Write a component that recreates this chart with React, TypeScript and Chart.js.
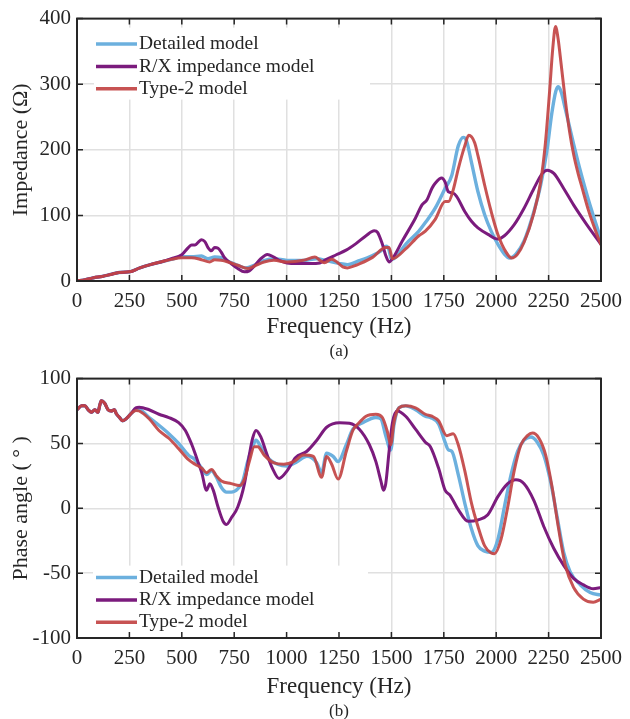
import React, { useEffect, useRef } from "react";
import { Chart, registerables } from "chart.js";

Chart.register(...registerables);

const FONT = "'Liberation Serif', 'Times New Roman', serif";
const INK = "#262626";

const seriesLabels = ["Detailed model", "R/X impedance model", "Type-2 model"];
const seriesColors = ["#6cb0de", "#7b1b7d", "rgba(194,68,68,0.92)"];

const freqTicks = [0, 250, 500, 750, 1000, 1250, 1500, 1750, 2000, 2250, 2500];
const impedanceTicks = [0, 100, 200, 300, 400];
const phaseTicks = [-100, -50, 0, 50, 100];

// (a) impedance magnitude, [frequency Hz, ohm]
const impDetailed: [number, number][] = [
  [0, 0], [40, 2], [80, 5], [120, 7], [160, 10], [200, 13], [250, 14], [300, 20], [350, 25], [400, 29],
  [450, 33], [500, 37], [547, 37], [594, 38], [625, 34], [657, 36.5], [688, 35.5], [720, 30], [767, 24],
  [806, 20], [845, 24], [892, 31], [939, 34], [1002, 31.5], [1080, 31.5], [1143, 34], [1190, 31],
  [1253, 26.5], [1290, 25], [1347, 31], [1410, 39], [1450, 46], [1475, 53], [1488, 48], [1500, 33],
  [1520, 36], [1568, 56], [1631, 76], [1662, 89], [1709, 111], [1756, 141], [1788, 161], [1819, 206],
  [1843, 219], [1858, 214], [1882, 181], [1913, 136], [1945, 101], [1976, 76], [2008, 56], [2039, 41],
  [2063, 35], [2094, 41], [2133, 61], [2180, 106], [2212, 146], [2243, 201], [2265, 255], [2285, 290],
  [2297, 296], [2310, 288], [2330, 262], [2350, 235], [2370, 208], [2390, 182], [2410, 158], [2440, 124],
  [2470, 93], [2500, 63],
];
const impRX: [number, number][] = [
  [0, 0], [40, 2], [80, 5], [120, 7], [160, 10], [200, 13], [250, 14], [300, 20], [350, 25], [400, 29],
  [450, 34], [500, 40], [531, 51], [547, 55], [563, 55], [578, 59], [594, 63], [610, 60], [625, 51],
  [641, 46], [657, 51], [673, 50], [688, 44], [704, 35.5], [735, 26.5], [767, 19], [798, 14], [822, 15.5],
  [845, 22.5], [877, 34], [908, 40.5], [939, 36.5], [971, 30.5], [1002, 27.5], [1049, 26.5], [1112, 26.5],
  [1159, 27.5], [1190, 33], [1237, 40], [1284, 47], [1331, 57], [1379, 69], [1418, 76.5], [1434, 74],
  [1457, 56], [1473, 39], [1489, 29], [1505, 34], [1552, 61], [1615, 96], [1646, 116], [1670, 124],
  [1693, 141], [1709, 149], [1740, 157], [1756, 151], [1772, 136], [1795, 134], [1811, 129], [1850, 106],
  [1882, 91], [1913, 81], [1961, 71], [2008, 64], [2039, 69], [2086, 86], [2133, 111], [2180, 141],
  [2220, 164], [2243, 169], [2275, 164], [2322, 141], [2369, 116], [2432, 86], [2500, 56],
];
const impType2: [number, number][] = [
  [0, 0], [40, 2], [80, 5], [120, 7], [160, 10], [200, 13], [250, 14], [300, 20], [350, 25], [400, 29],
  [450, 33], [500, 35.5], [547, 35.5], [594, 32.5], [633, 29], [657, 32.5], [688, 31.5], [720, 29],
  [767, 24], [814, 19], [845, 22.5], [892, 29], [939, 31.5], [1002, 29], [1080, 31.5], [1135, 36.5],
  [1159, 31.5], [1180, 28], [1215, 33], [1240, 29], [1268, 21.5], [1290, 20], [1331, 24], [1347, 26],
  [1410, 36], [1473, 51], [1489, 51], [1505, 34], [1568, 49], [1631, 69], [1662, 76], [1709, 94],
  [1756, 121], [1772, 121], [1795, 139], [1819, 171], [1850, 206], [1869, 222], [1897, 211], [1913, 191],
  [1945, 146], [1976, 106], [2008, 71], [2047, 44], [2074, 35], [2102, 41], [2133, 59], [2180, 104],
  [2212, 151], [2235, 211], [2255, 290], [2270, 355], [2283, 388], [2295, 370], [2310, 330], [2330, 275],
  [2350, 228], [2370, 192], [2390, 165], [2410, 142], [2440, 108], [2470, 80], [2500, 55],
];

// (b) phase angle, [frequency Hz, degrees]
const phaseDetailed: [number, number][] = [
  [0, 76], [22, 79], [38, 79], [53, 76], [69, 74], [85, 76], [100, 74], [108, 79], [116, 83], [132, 81],
  [148, 76], [163, 75], [179, 76], [187, 73], [203, 70], [218, 67.5], [234, 69], [258, 73], [281, 76],
  [297, 76], [344, 70], [391, 64], [438, 57.5], [485, 50], [532, 41], [563, 37.5], [595, 31], [618, 26],
  [642, 29], [665, 24], [689, 16], [713, 12.5], [736, 12.5], [767, 15], [791, 21], [814, 36], [838, 47.5],
  [854, 52.5], [877, 47.5], [909, 39], [956, 34], [1003, 32.5], [1050, 36], [1097, 40], [1144, 35],
  [1167, 27.5], [1191, 42.5], [1222, 40], [1245, 36], [1285, 49], [1316, 61], [1363, 66], [1426, 70],
  [1450, 69], [1473, 56], [1497, 45], [1512, 64], [1536, 77.5], [1568, 79], [1615, 76], [1662, 71],
  [1686, 70], [1725, 65], [1756, 51], [1772, 45], [1788, 44], [1819, 26], [1850, 4], [1882, -16],
  [1913, -29], [1945, -33], [1976, -34], [2008, -24], [2039, 1], [2071, 26], [2102, 44], [2133, 52.5],
  [2165, 55], [2196, 51], [2227, 41], [2259, 21], [2290, -6], [2322, -34], [2353, -49], [2401, -59],
  [2448, -65], [2500, -67],
];
const phaseRX: [number, number][] = [
  [0, 76], [22, 79], [38, 79], [53, 76], [69, 74], [85, 76], [100, 74], [108, 79], [116, 83], [132, 81],
  [148, 76], [163, 75], [179, 76], [187, 73], [203, 70], [218, 67.5], [234, 69], [258, 73], [281, 77.5],
  [297, 78], [344, 76], [391, 72.5], [438, 70], [485, 66], [517, 60], [548, 49], [563, 42.5], [579, 35],
  [595, 27.5], [618, 14], [634, 19], [650, 14], [673, 1], [697, -10], [713, -12.5], [736, -7.5], [767, 1],
  [799, 19], [822, 41], [838, 54], [854, 60], [877, 55], [901, 44], [932, 31], [964, 23], [1003, 29],
  [1042, 39], [1097, 44], [1144, 52.5], [1191, 62.5], [1253, 66], [1300, 65.5], [1347, 61], [1395, 49],
  [1426, 36], [1450, 21], [1462, 14], [1473, 19], [1489, 44], [1505, 66], [1528, 75], [1568, 71],
  [1615, 61], [1662, 51], [1686, 47.5], [1725, 31], [1756, 14], [1780, 10], [1819, -1], [1866, -10],
  [1913, -9], [1960, -5], [2008, 9], [2055, 19], [2094, 22], [2133, 19], [2180, 6], [2227, -14],
  [2275, -31], [2322, -44], [2369, -54], [2416, -59], [2463, -62], [2500, -61],
];
const phaseType2: [number, number][] = [
  [0, 76], [22, 79], [38, 79], [53, 76], [69, 74], [85, 76], [100, 74], [108, 79], [116, 83], [132, 81],
  [148, 76], [163, 75], [179, 76], [187, 73], [203, 70], [218, 67.5], [234, 69], [258, 73], [281, 75.5],
  [297, 75], [344, 69], [391, 60], [438, 54], [485, 46], [532, 37.5], [563, 34], [595, 31], [618, 27.5],
  [642, 30], [665, 25], [689, 21], [736, 19], [775, 17.5], [799, 22.5], [822, 36], [846, 47.5],
  [862, 47.5], [893, 41], [940, 35], [987, 34], [1034, 36], [1081, 41], [1128, 40], [1167, 24],
  [1191, 40], [1215, 34], [1246, 22.5], [1285, 44], [1316, 60], [1340, 65], [1379, 71], [1426, 72.5],
  [1457, 70], [1481, 59], [1497, 49], [1512, 66], [1536, 77.5], [1568, 79], [1615, 77.5], [1662, 72.5],
  [1693, 71], [1725, 67.5], [1764, 56], [1795, 57.5], [1819, 49], [1850, 29], [1882, 4], [1913, -14],
  [1945, -29], [1976, -34.5], [1992, -35], [2023, -24], [2055, 1], [2086, 29], [2118, 49], [2149, 56],
  [2173, 58], [2204, 54], [2236, 41], [2267, 16], [2298, -16], [2330, -44], [2369, -61], [2416, -70],
  [2463, -72.5], [2500, -70],
];

const framePlugin = {
  id: "frame",
  beforeDatasetsDraw(chart: any, _args: any, opts: any) {
    const { ctx, chartArea: a } = chart;
    const b = opts.box;
    ctx.save();
    ctx.fillStyle = "#ffffff";
    ctx.fillRect(a.left + b[0], a.top + b[1], b[2], b[3]);
    ctx.restore();
  },
  afterDatasetsDraw(chart: any, _args: any, opts: any) {
    const { ctx, chartArea: a, scales } = chart;
    ctx.save();
    ctx.strokeStyle = INK;
    ctx.lineWidth = 1.5;
    const len = 6;
    ctx.beginPath();
    for (const t of scales.x.ticks) {
      const px = scales.x.getPixelForValue(t.value);
      ctx.moveTo(px, a.bottom);
      ctx.lineTo(px, a.bottom - len);
      ctx.moveTo(px, a.top);
      ctx.lineTo(px, a.top + len);
    }
    for (const t of scales.y.ticks) {
      const py = scales.y.getPixelForValue(t.value);
      ctx.moveTo(a.left, py);
      ctx.lineTo(a.left + len, py);
      ctx.moveTo(a.right, py);
      ctx.lineTo(a.right - len, py);
    }
    ctx.stroke();
    ctx.lineWidth = 2;
    ctx.strokeRect(a.left, a.top, a.right - a.left, a.bottom - a.top);

    ctx.font = `19.5px ${FONT}`;
    ctx.textBaseline = "middle";
    ctx.textAlign = "left";
    chart.data.datasets.forEach((ds: any, i: number) => {
      const y = a.top + opts.legendTop + i * opts.legendGap;
      ctx.strokeStyle = ds.borderColor;
      ctx.lineWidth = 3.5;
      ctx.beginPath();
      ctx.moveTo(a.left + 19, y);
      ctx.lineTo(a.left + 60, y);
      ctx.stroke();
      ctx.fillStyle = INK;
      ctx.fillText(ds.label, a.left + 62, y);
    });

    ctx.font = `17px ${FONT}`;
    ctx.textAlign = "center";
    ctx.fillStyle = INK;
    ctx.fillText(opts.caption, (a.left + a.right) / 2, opts.captionY);
    ctx.restore();
  },
};

type PanelProps = {
  series: [number, number][][];
  yTicks: number[];
  yTitle: string;
  height: number;
  padTop: number;
  xAxisHeight: number;
  xTitlePad: number;
  legendTop: number;
  box: number[];
  caption: string;
  captionY: number;
};

function Panel(p: PanelProps) {
  const ref = useRef<HTMLCanvasElement | null>(null);
  useEffect(() => {
    if (!ref.current) return;
    const chart = new Chart(ref.current, {
      type: "line",
      data: {
        datasets: p.series.map((s, i) => ({
          label: seriesLabels[i],
          data: s.map(([x, y]) => ({ x, y })),
          borderColor: seriesColors[i],
          borderWidth: i === 0 ? 3.4 : 3,
          pointRadius: 0,
          fill: false,
          cubicInterpolationMode: "monotone",
          order: 3 - i,
        })),
      },
      options: {
        responsive: false,
        animation: false,
        layout: { padding: { top: p.padTop, right: 22, left: 0, bottom: 0 } },
        plugins: {
          legend: { display: false },
          tooltip: { enabled: false },
          frame: {
            legendTop: p.legendTop,
            legendGap: 22.3,
            box: p.box,
            caption: p.caption,
            captionY: p.captionY,
          },
        } as any,
        scales: {
          x: {
            type: "linear",
            min: 0,
            max: 2500,
            afterBuildTicks: (s: any) => {
              s.ticks = freqTicks.map((v) => ({ value: v }));
            },
            afterFit: (s: any) => {
              s.height = p.xAxisHeight;
            },
            grid: { color: "#e0e0e0", lineWidth: 1.5, drawTicks: false },
            border: { display: false },
            ticks: {
              font: { family: FONT, size: 21 },
              color: INK,
              padding: 8,
              maxRotation: 0,
              autoSkip: false,
              callback: (v: any) => String(v),
            },
            title: {
              display: true,
              text: "Frequency (Hz)",
              font: { family: FONT, size: 23 },
              color: INK,
              padding: { top: 0, bottom: p.xTitlePad },
            },
          },
          y: {
            type: "linear",
            min: p.yTicks[0],
            max: p.yTicks[p.yTicks.length - 1],
            afterBuildTicks: (s: any) => {
              s.ticks = p.yTicks.map((v) => ({ value: v }));
            },
            afterFit: (s: any) => {
              s.width = 77;
            },
            grid: { color: "#e0e0e0", lineWidth: 1.5, drawTicks: false },
            border: { display: false },
            ticks: {
              font: { family: FONT, size: 21 },
              color: INK,
              padding: 6,
              autoSkip: false,
              callback: (v: any) => String(v),
            },
            title: {
              display: true,
              text: p.yTitle,
              font: { family: FONT, size: 22 },
              color: INK,
              padding: { top: 8, bottom: 0 },
            },
          },
        },
      },
      plugins: [framePlugin as any],
    } as any);
    return () => chart.destroy();
  }, []);
  return <canvas ref={ref} width={630} height={p.height} style={{ display: "block" }} />;
}

export default function App() {
  return (
    <div style={{ position: "absolute", left: 0, top: 0, width: 630, height: 719, background: "#fff" }}>
      <Panel
        series={[impDetailed, impRX, impType2]}
        yTicks={impedanceTicks}
        yTitle="Impedance (Ω)"
        height={360}
        padTop={15}
        xAxisHeight={79}
        xTitlePad={19}
        legendTop={25.5}
        box={[17, 9, 276, 72]}
        caption="(a)"
        captionY={352}
      />
      <Panel
        series={[phaseDetailed, phaseRX, phaseType2]}
        yTicks={phaseTicks}
        yTitle="Phase angle ( ° )"
        height={359}
        padTop={13}
        xAxisHeight={81}
        xTitlePad={18}
        legendTop={199}
        box={[16, 187, 275, 72]}
        caption="(b)"
        captionY={352}
      />
    </div>
  );
}
